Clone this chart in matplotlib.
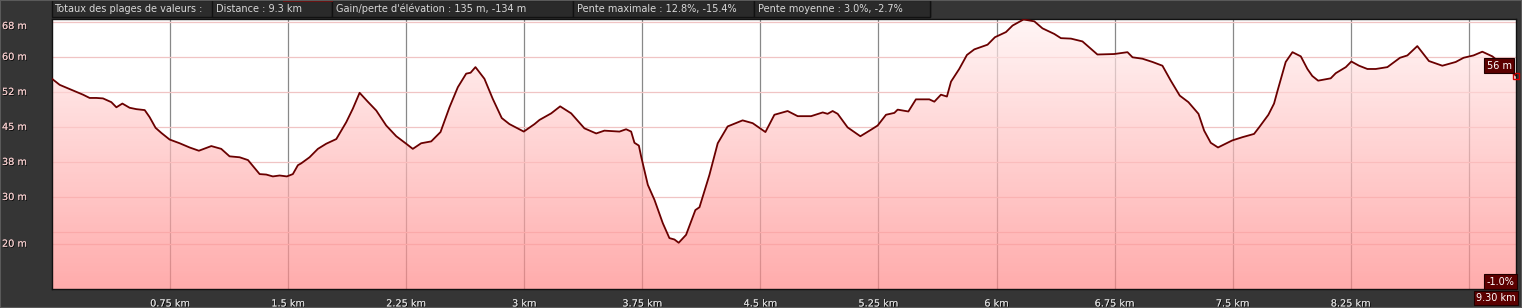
import matplotlib
matplotlib.use("Agg")
import matplotlib.pyplot as plt
import matplotlib.patheffects as pe
from matplotlib.colors import LinearSegmentedColormap
from matplotlib.patches import Polygon, Rectangle
import numpy as np

# elevation profile (km, m)
dist_km = [0.000, 0.049, 0.133, 0.197, 0.239, 0.282, 0.324, 0.377, 0.409, 0.447,
           0.493, 0.536, 0.589, 0.620, 0.658, 0.695, 0.747, 0.811, 0.874, 0.933,
           1.012, 1.075, 1.128, 1.192, 1.245, 1.319, 1.361, 1.403, 1.446, 1.492,
           1.530, 1.562, 1.583, 1.636, 1.689, 1.742, 1.806, 1.869, 1.911, 1.954,
           2.006, 2.060, 2.123, 2.187, 2.250, 2.292, 2.345, 2.409, 2.468, 2.525,
           2.578, 2.631, 2.659, 2.690, 2.747, 2.800, 2.857, 2.906, 2.997, 3.065,
           3.097, 3.171, 3.228, 3.298, 3.382, 3.457, 3.509, 3.605, 3.647, 3.679,
           3.700, 3.728, 3.743, 3.785, 3.827, 3.880, 3.922, 3.954, 3.981, 4.028,
           4.087, 4.113, 4.176, 4.229, 4.292, 4.387, 4.451, 4.532, 4.589, 4.673,
           4.737, 4.822, 4.896, 4.927, 4.959, 4.991, 5.054, 5.135, 5.203, 5.245,
           5.298, 5.351, 5.372, 5.440, 5.488, 5.573, 5.605, 5.647, 5.685, 5.711,
           5.763, 5.812, 5.859, 5.943, 5.990, 6.060, 6.102, 6.172, 6.240, 6.292,
           6.367, 6.409, 6.473, 6.546, 6.641, 6.747, 6.832, 6.864, 6.927, 6.991,
           7.054, 7.107, 7.164, 7.219, 7.283, 7.319, 7.361, 7.407, 7.467, 7.497,
           7.562, 7.636, 7.668, 7.727, 7.763, 7.784, 7.837, 7.880, 7.933, 7.975,
           8.006, 8.043, 8.123, 8.155, 8.219, 8.254, 8.303, 8.356, 8.409, 8.483,
           8.563, 8.610, 8.673, 8.747, 8.832, 8.917, 8.967, 9.030, 9.086, 9.150,
           9.245, 9.300]
elev_m = [55.3, 54.0, 52.8, 51.9, 51.2, 51.2, 51.1, 50.3, 49.2, 50.0,
          49.1, 48.8, 48.6, 47.1, 44.8, 43.7, 42.3, 41.5, 40.6, 39.9,
          40.9, 40.3, 38.7, 38.5, 37.9, 34.9, 34.8, 34.4, 34.6, 34.4,
          34.9, 36.8, 37.2, 38.5, 40.3, 41.4, 42.4, 46.0, 48.9, 52.3,
          50.4, 48.5, 45.3, 43.0, 41.4, 40.3, 41.5, 41.9, 43.9, 49.2,
          53.5, 56.4, 56.6, 57.8, 55.3, 51.0, 46.9, 45.6, 44.0, 45.6,
          46.5, 47.9, 49.4, 47.9, 44.7, 43.6, 44.2, 44.0, 44.5, 44.0,
          41.6, 41.0, 38.6, 32.6, 29.4, 24.4, 21.2, 20.9, 20.2, 21.9,
          27.2, 27.8, 34.7, 41.5, 45.1, 46.4, 45.8, 43.9, 47.6, 48.4,
          47.3, 47.3, 48.1, 47.8, 48.4, 47.8, 44.9, 43.0, 44.4, 45.3,
          47.6, 48.0, 48.7, 48.3, 50.9, 50.9, 50.4, 51.9, 51.5, 54.7,
          57.4, 60.4, 61.6, 62.6, 64.2, 65.3, 66.7, 68.0, 67.6, 66.1,
          64.9, 64.0, 63.9, 63.3, 60.5, 60.6, 61.0, 59.9, 59.6, 58.9,
          58.1, 54.9, 51.7, 50.3, 47.8, 44.2, 41.6, 40.6, 41.6, 42.1,
          42.8, 43.5, 44.9, 47.6, 50.0, 52.6, 58.9, 61.0, 60.1, 57.4,
          55.9, 54.9, 55.4, 56.5, 57.8, 59.0, 58.1, 57.4, 57.4, 57.8,
          59.8, 60.3, 62.3, 59.1, 58.1, 58.9, 59.8, 60.3, 61.1, 60.1,
          57.4, 56.0]

# axis ticks and labels
x_ticks = [0.75, 1.5, 2.25, 3, 3.75, 4.5, 5.25, 6, 6.75, 7.5, 8.25, 9]
x_labels = ["0.75 km", "1.5 km", "2.25 km", "3 km", "3.75 km", "4.5 km",
            "5.25 km", "6 km", "6.75 km", "7.5 km", "8.25 km", ""]
y_grid = [20, 22.5, 30, 37.5, 45, 52.5, 60, 67.5]
y_label_pos = [66.6, 60, 52.5, 45, 37.5, 30, 20]
y_labels = ["68 m", "60 m", "52 m", "45 m", "38 m", "30 m", "20 m"]

# header summary
header_title = "Totaux des plages de valeurs :"
header_items = ["Distance : 9.3 km", "Gain/perte d'élévation : 135 m, -134 m",
                "Pente maximale : 12.8%, -15.4%", "Pente moyenne : 3.0%, -2.7%"]
header_edges = [212, 332, 573, 754, 930]

end_elev_label = "56 m"
end_slope_label = "-1.0%"
end_dist_label = "9.30 km"

BG = "#353535"
LINE = "#6a0000"
BOX = "#5c0000"
W, H = 1522, 308

fig = plt.figure(figsize=(W / 100, H / 100), dpi=100, facecolor=BG)
ax = fig.add_axes([52 / W, 19 / H, 1464 / W, 270 / H])
ax.set_facecolor("white")
ax.set_xlim(0, 9.3)
ax.set_ylim(10.3, 68.1)

# grid drawn behind a semi transparent fill
for v in x_ticks:
    ax.axvline(v, color="#888888", lw=0.9, zorder=1)
for v in y_grid:
    ax.axhline(v, color="#f0c4c4", lw=0.9, zorder=1)

# gradient fill under the profile
cmap = LinearSegmentedColormap.from_list("elev", ["#ff8888", "#fff2f2"])
grad = np.linspace(0, 1, 256).reshape(-1, 1)
im = ax.imshow(grad, cmap=cmap, origin="lower", aspect="auto", alpha=0.7,
               extent=[0, 9.3, 10.3, 68.1], zorder=2)
verts = [(0, 10.3)] + list(zip(dist_km, elev_m)) + [(dist_km[-1], 10.3)]
poly = Polygon(verts, closed=True, facecolor="none", edgecolor="none")
ax.add_patch(poly)
im.set_clip_path(poly)

ax.plot(dist_km, elev_m, color=LINE, lw=1.3, zorder=3)
ax.plot(dist_km[-1], elev_m[-1], marker="s", ms=5, mfc="none", mec="#d00000",
        mew=1, clip_on=False, zorder=4)

ax.set_xticks([])
ax.set_yticks([])
for s in ax.spines.values():
    s.set_color("#111111")
    s.set_linewidth(1)

shadow = [pe.withSimplePatchShadow(offset=(0.6, -0.6), shadow_rgbFace="black", alpha=0.9), pe.Normal()]

# tick labels as text
for v, lab in zip(x_ticks, x_labels):
    if lab:
        ax.text(v, -0.035, lab, transform=ax.get_xaxis_transform(), ha="center",
                va="top", fontsize=7, color="#d8d8d8", path_effects=shadow)
ytrans = matplotlib.transforms.blended_transform_factory(fig.transFigure, ax.transData)
for v, lab in zip(y_label_pos, y_labels):
    ax.text(2 / W, v, lab, transform=ytrans, ha="left", va="center",
            fontsize=7, color="#f0c8c8", path_effects=shadow)

# end point annotations
ax.annotate(end_elev_label, (dist_km[-1], elev_m[-1]), xytext=(-12, 7),
            textcoords="offset points", ha="center", va="center", fontsize=7,
            color="white", zorder=5,
            bbox=dict(boxstyle="square,pad=0.25", fc=BOX, ec="#200000", lw=0.8))
ax.text(0.999, 0.008, end_slope_label, transform=ax.transAxes, ha="right",
        va="bottom", fontsize=7, color="white", zorder=5,
        bbox=dict(boxstyle="square,pad=0.25", fc=BOX, ec="#200000", lw=0.8))
fig.text(1516 / W, 1 - 298 / H, end_dist_label, ha="right", va="center",
         fontsize=7, color="white",
         bbox=dict(boxstyle="square,pad=0.25", fc=BOX, ec="#200000", lw=0.8))

# header strip
hy = 1 - 17 / H
fig.patches.append(Rectangle((52 / W, hy), (header_edges[-1] - 52) / W, 17 / H,
                             transform=fig.transFigure, fc="#2c2c2c", ec="#111111", lw=1))
fig.text(54 / W, 1 - 9 / H, header_title, ha="left", va="center", fontsize=7,
         color="#d8d8d8")
for i, txt in enumerate(header_items):
    x0, x1 = header_edges[i], header_edges[i + 1]
    fig.patches.append(Rectangle((x0 / W, hy), (x1 - x0) / W, 17 / H,
                                 transform=fig.transFigure, fc="#2a2a2a", ec="#111111", lw=1))
    fig.text((x0 + 4) / W, 1 - 9 / H, txt, ha="left", va="center", fontsize=7,
             color="#d8d8d8")
fig.patches.append(Rectangle((283 / W, 1 - 2 / H), 50 / W, 2 / H,
                             transform=fig.transFigure, fc="#6a1010", ec="none"))
fig.patches.append(Rectangle((0, 0), 1, 1, transform=fig.transFigure, fc="none",
                             ec="#5a5a5a", lw=1.5))

plt.savefig("out.png", dpi=100, facecolor=BG)
